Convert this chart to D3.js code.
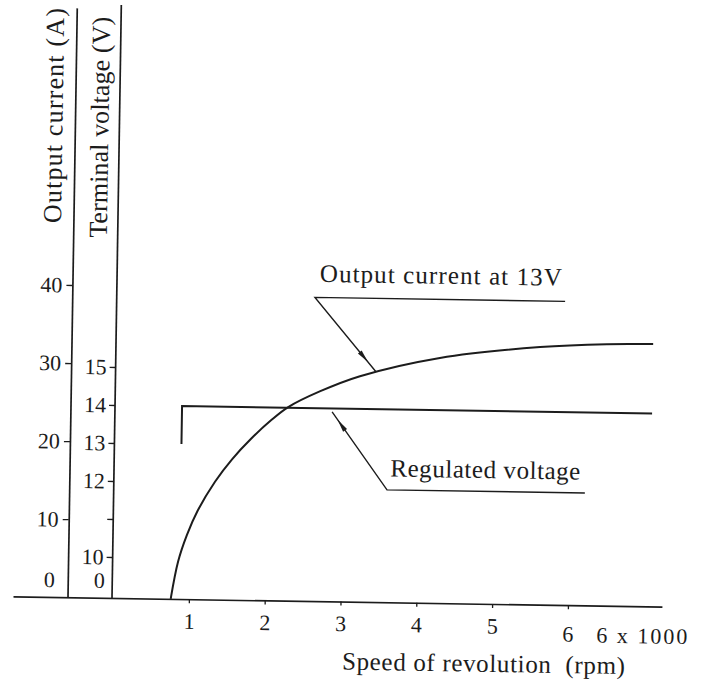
<!DOCTYPE html>
<html>
<head>
<meta charset="utf-8">
<script src="https://cdn.jsdelivr.net/npm/d3@7"></script>
<style>
  html, body { margin: 0; padding: 0; background: #fff; }
  svg { display: block; }
  text { font-family: "Liberation Serif", "Times New Roman", serif; fill: #1c1c1c; }
</style>
</head>
<body>
<svg id="chart" width="709" height="687"></svg>
<script>
// Alternator characteristic: output current and regulated terminal voltage vs speed
const speedRpm      = [0.76, 0.85, 0.96, 1.10, 1.32, 1.54, 1.79, 2.05, 2.27, 2.69, 3.21, 4.26, 5.58, 6.46, 7.07]; // x 1000 rpm
const outputCurrent = [0,    4.8,  8.2,  11.4, 15.1, 18.0, 20.7, 23.1, 24.8, 26.9, 28.9, 31.4, 33.0, 33.5, 33.6]; // A

const regulatedRpm     = [0.87, 0.87, 7.07];
const regulatedVoltage = [13.0, 14.0, 14.0]; // V

const rpmTicks      = [1, 2, 3, 4, 5, 6];
const rpmUnitLabel  = "6 x 1000";
const currentTicks  = [10, 20, 30, 40];
const voltageTicks  = [10, 11, 12, 13, 14, 15];
const voltageLabels = ["10", "", "12", "13", "14", "15"];

const currentTitle = "Output current (A)";
const voltageTitle = "Terminal voltage (V)";
const speedTitle   = "Speed of revolution  (rpm)";

// callouts: label anchor, elbow, end of the shelf line, arrow tip
const currentNote = { text: "Output current at 13V", label: [2.66, 40.9], elbow: [2.60, 38.9], shelfEnd: 5.90, tip: [3.42, 29.5] };
const voltageNote = { text: "Regulated voltage", label: [3.63, 12.23], elbow: [3.59, 11.88], shelfEnd: 6.20, tip: [2.85, 13.91] };

const ink = "#1c1c1c";
const svg = d3.select("#chart");
svg.append("rect").attr("width", 709).attr("height", 687).attr("fill", "#fff");

// the whole plate sits at a slight clockwise tilt
const g = svg.append("g").attr("transform", "rotate(0.9,113,598)");

const x  = d3.scaleLinear().domain([-1.32, 7.24]).range([13, 662]);
const yI = d3.scaleLinear().domain([0, 75.5]).range([598, 8.5]);
const yV = d3.scaleLinear().domain([10, 15]).range([557, 367]);

const currentAxisX = 67.5, voltageAxisX = 112, voltageAxisTop = 4.9;

function styleAxis(sel, size) {
  sel.selectAll("path.domain").attr("stroke", ink).attr("stroke-width", 1.7);
  sel.selectAll(".tick line").attr("stroke", ink).attr("stroke-width", 1.3);
  sel.selectAll(".tick text")
    .attr("fill", ink)
    .style("font-family", '"Liberation Serif", serif')
    .style("font-size", size + "px");
}

// x axis
const gx = g.append("g").attr("transform", `translate(0,${yI(0)})`)
  .call(d3.axisBottom(x).tickValues(rpmTicks).tickSize(4).tickSizeOuter(0).tickPadding(10).tickFormat(d3.format("d")));
styleAxis(gx, 22);
gx.selectAll(".tick text").filter(d => d === 6).attr("dy", "1.02em");

g.append("text")
  .attr("x", x(6) + 29).attr("y", 635)
  .attr("textLength", 91).attr("lengthAdjust", "spacing")
  .style("font-size", "22px").style("white-space", "pre")
  .text(rpmUnitLabel);

g.append("text")
  .attr("x", 343).attr("y", 666)
  .attr("textLength", 283).attr("lengthAdjust", "spacing")
  .style("font-size", "25px").style("white-space", "pre")
  .text(speedTitle);

// current axis
const gi = g.append("g").attr("transform", `translate(${currentAxisX},0)`)
  .call(d3.axisLeft(yI).tickValues(currentTicks).tickSize(6).tickSizeOuter(0).tickPadding(4));
styleAxis(gi, 22);
gi.append("text").attr("x", -13).attr("y", yI(0) - 10).attr("text-anchor", "end")
  .style("font-size", "22px").attr("fill", ink).text("0");

// voltage axis (broken below 10 V)
g.append("line")
  .attr("x1", voltageAxisX).attr("x2", voltageAxisX)
  .attr("y1", yI(0)).attr("y2", voltageAxisTop)
  .attr("stroke", ink).attr("stroke-width", 1.7);
const gv = g.append("g").attr("transform", `translate(${voltageAxisX},0)`)
  .call(d3.axisLeft(yV).tickValues(voltageTicks).tickSize(6).tickSizeOuter(0).tickPadding(3)
    .tickFormat((d, i) => voltageLabels[i]));
gv.select("path.domain").remove();
styleAxis(gv, 22);
gv.append("text").attr("x", -7.5).attr("y", yI(0) - 10).attr("text-anchor", "end")
  .style("font-size", "22px").attr("fill", ink).text("0");

// axis titles
g.append("text")
  .attr("transform", `translate(55,224) rotate(-90)`)
  .attr("textLength", 215).attr("lengthAdjust", "spacing")
  .style("font-size", "26px").text(currentTitle);
g.append("text")
  .attr("transform", `translate(101,238) rotate(-90)`)
  .attr("textLength", 221).attr("lengthAdjust", "spacing")
  .style("font-size", "26px").text(voltageTitle);

// output current curve
const currentLine = d3.line()
  .x((d, i) => x(speedRpm[i]))
  .y(d => yI(d))
  .curve(d3.curveCatmullRom.alpha(0.5));
g.append("path").datum(outputCurrent)
  .attr("d", currentLine)
  .attr("fill", "none").attr("stroke", ink).attr("stroke-width", 2);

// regulated voltage
const voltLine = d3.line()
  .x((d, i) => x(regulatedRpm[i]))
  .y(d => yV(d));
g.append("path").datum(regulatedVoltage)
  .attr("d", voltLine)
  .attr("fill", "none").attr("stroke", ink).attr("stroke-width", 2);

// callouts
function callout(note, ys, frac, width) {
  const ex = x(note.elbow[0]), ey = ys(note.elbow[1]);
  const tx = x(note.tip[0]),   ty = ys(note.tip[1]);
  g.append("polyline")
    .attr("points", [[x(note.shelfEnd), ey], [ex, ey], [tx, ty]].map(p => p.join(",")).join(" "))
    .attr("fill", "none").attr("stroke", ink).attr("stroke-width", 1.4);
  const ax = ex + (tx - ex) * frac, ay = ey + (ty - ey) * frac;
  const len = Math.hypot(tx - ex, ty - ey);
  const ux = (tx - ex) / len, uy = (ty - ey) / len;
  const L = 13, hw = 2.4;
  const bx = ax - ux * L, by = ay - uy * L;
  g.append("path")
    .attr("d", `M${ax},${ay}L${bx - uy * hw},${by + ux * hw}L${bx + uy * hw},${by - ux * hw}Z`)
    .attr("fill", ink);
  g.append("text")
    .attr("x", x(note.label[0])).attr("y", ys(note.label[1]))
    .attr("textLength", width).attr("lengthAdjust", "spacing")
    .style("font-size", "25px").text(note.text);
}
callout(currentNote, yI, 0.87, 242);
callout(voltageNote, yV, 0.9, 190);
</script>
</body>
</html>
